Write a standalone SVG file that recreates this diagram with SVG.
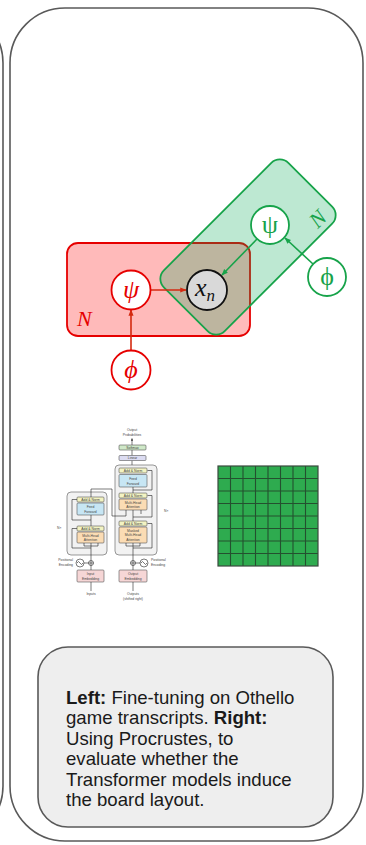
<svg xmlns="http://www.w3.org/2000/svg" width="366" height="845" viewBox="0 0 366 845">
<defs>
<style>
.panel{fill:none;stroke:#595959;stroke-width:1.6}
.red{stroke:#e60000;stroke-width:1.8}
.grn{stroke:#17a34a;stroke-width:1.8}
.math{font-family:"Liberation Serif","DejaVu Serif",serif;font-style:italic}
.up{font-family:"Liberation Serif","DejaVu Serif",serif}
.tf{font-family:"Liberation Sans",Arial,sans-serif;font-size:3.4px;fill:#444;text-anchor:middle}
.tfl{font-family:"Liberation Sans",Arial,sans-serif;font-size:3.4px;fill:#444}
.blk{stroke:#555;stroke-width:0.6}
.tl{stroke:#222;stroke-width:0.6;fill:none}
.body{font-family:"Liberation Sans",Arial,sans-serif;font-size:18.6px;fill:#1a1a1a}
.cell{fill:none;stroke:#24502f;stroke-width:1.1}
</style>
<marker id="ar" viewBox="0 0 10 10" refX="9" refY="5" markerWidth="4" markerHeight="4" orient="auto"><path d="M0,1 L10,5 L0,9 z" fill="#d42a10"/></marker>
<marker id="ag" viewBox="0 0 10 10" refX="9" refY="5" markerWidth="4" markerHeight="4" orient="auto"><path d="M0,1 L10,5 L0,9 z" fill="#17a34a"/></marker>
<marker id="ak" viewBox="0 0 10 10" refX="9" refY="5" markerWidth="4" markerHeight="4" orient="auto"><path d="M0,1 L10,5 L0,9 z" fill="#222"/></marker>
</defs>

<g id="left-panel"><path class="panel" d="M-60,8 H-52 A55,55 0 0 1 3,63 V786 A55,55 0 0 1 -52,841 H-60"/></g>
<g id="main-panel"><rect class="panel" x="10" y="8" width="353" height="833" rx="55"/></g>

<g id="plate-red">
<rect x="67" y="243" width="183" height="93" rx="11" fill="#ff0000" fill-opacity="0.27" stroke="none"/>
<rect x="67" y="243" width="183" height="93" rx="11" fill="none" class="red"/>
<text class="math" x="77" y="326" font-size="22" fill="#e60000">N</text>
</g>
<g id="plate-green">
<rect x="-88" y="-43" width="176" height="86" rx="12" transform="translate(248,247) rotate(-45)" fill="#00a550" fill-opacity="0.26" class="grn"/>
<text class="math" x="0" y="7" font-size="22" fill="#17a34a" text-anchor="middle" transform="translate(318,219) rotate(-45)">N</text>
</g>

<g id="connectors">
<line x1="151" y1="290" x2="186" y2="290" stroke="#d42a10" stroke-width="1.6" marker-end="url(#ar)"/>
<line x1="131" y1="350" x2="131" y2="310" stroke="#d42a10" stroke-width="1.6" marker-end="url(#ar)"/>
<line x1="257" y1="239" x2="222" y2="275" stroke="#17a34a" stroke-width="1.6" marker-end="url(#ag)"/>
<line x1="313" y1="264" x2="285" y2="238" stroke="#17a34a" stroke-width="1.6" marker-end="url(#ag)"/>
</g>

<g id="node-psi-red"><circle cx="131" cy="290" r="19.5" fill="#fff" class="red"/><text class="math" x="131" y="298" font-size="26" fill="#e60000" text-anchor="middle">ψ</text></g>
<g id="node-phi-red"><circle cx="131" cy="370" r="19.5" fill="#fff" class="red"/><text class="math" x="131" y="378" font-size="26" fill="#e60000" text-anchor="middle">ϕ</text></g>
<g id="node-xn"><circle cx="207" cy="290" r="20" fill="#d9d9d9" stroke="#111" stroke-width="1.8"/><text class="math" x="205" y="296" font-size="26" fill="#111" text-anchor="middle">x<tspan font-size="17" dy="5">n</tspan></text></g>
<g id="node-psi-green"><circle cx="270" cy="225" r="19" fill="#fff" class="grn"/><text class="up" x="270" y="233" font-size="26" fill="#17a34a" text-anchor="middle">ψ</text></g>
<g id="node-phi-green"><circle cx="327" cy="277" r="19" fill="#fff" class="grn"/><text class="up" x="327" y="285" font-size="26" fill="#17a34a" text-anchor="middle">ϕ</text></g>

<g id="transformer">
<text class="tf" x="132" y="431">Output</text>
<text class="tf" x="132" y="436">Probabilities</text>
<line class="tl" x1="132" y1="445" x2="132" y2="438.5" marker-end="url(#ak)"/>
<line class="tl" x1="132" y1="455.5" x2="132" y2="450"/>
<line class="tl" x1="132" y1="468" x2="132" y2="460.5"/>
<rect x="119" y="445" width="27" height="5" rx="1" fill="#cfe8c8" class="blk"/>
<text class="tf" x="132.5" y="448.8">Softmax</text>
<rect x="119" y="455.5" width="27" height="5" rx="1" fill="#dcdcf2" class="blk"/>
<text class="tf" x="132.5" y="459.3">Linear</text>
<rect x="115" y="465" width="42" height="90" rx="4" fill="#f2f2f2" stroke="#555" stroke-width="0.6"/>
<rect x="119" y="468" width="28" height="5" rx="1" fill="#f3f3c2" class="blk"/>
<text class="tf" x="133" y="471.8">Add &amp; Norm</text>
<rect x="119" y="474.5" width="28" height="12.5" rx="1" fill="#c7e6f4" class="blk"/>
<text class="tf" x="133" y="480">Feed</text><text class="tf" x="133" y="484.5">Forward</text>
<rect x="119" y="493" width="28" height="5" rx="1" fill="#f3f3c2" class="blk"/>
<text class="tf" x="133" y="496.8">Add &amp; Norm</text>
<rect x="119" y="499" width="28" height="11" rx="1" fill="#fbdcb4" class="blk"/>
<text class="tf" x="133" y="503.7">Multi-Head</text><text class="tf" x="133" y="508">Attention</text>
<rect x="119" y="521" width="28" height="5" rx="1" fill="#f3f3c2" class="blk"/>
<text class="tf" x="133" y="524.8">Add &amp; Norm</text>
<rect x="119" y="527" width="28" height="16" rx="1" fill="#fbdcb4" class="blk"/>
<text class="tf" x="133" y="532">Masked</text><text class="tf" x="133" y="536.3">Multi-Head</text><text class="tf" x="133" y="540.6">Attention</text>
<path class="tl" d="M133,493 V487 M133,521 V510 M133,560.5 V543 M133,490 H152 V470.5 H147.5 M133,517 H152 V495.5 H147.5 M133,548 H152 V523.5 H147.5"/>
<path class="tl" d="M126,543 V546 H140 V543 M141,514 V510"/>
<text class="tfl" x="164" y="512">N×</text>

<rect x="67" y="492" width="40" height="63" rx="4" fill="#f2f2f2" stroke="#555" stroke-width="0.6"/>
<rect x="77" y="497" width="27" height="5" rx="1" fill="#f3f3c2" class="blk"/>
<text class="tf" x="90.5" y="500.8">Add &amp; Norm</text>
<rect x="77" y="503" width="27" height="12" rx="1" fill="#c7e6f4" class="blk"/>
<text class="tf" x="90.5" y="508.3">Feed</text><text class="tf" x="90.5" y="512.7">Forward</text>
<rect x="77" y="526" width="27" height="5" rx="1" fill="#f3f3c2" class="blk"/>
<text class="tf" x="90.5" y="529.8">Add &amp; Norm</text>
<rect x="77" y="532" width="27" height="11" rx="1" fill="#fbdcb4" class="blk"/>
<text class="tf" x="90.5" y="536.7">Multi-Head</text><text class="tf" x="90.5" y="541">Attention</text>
<path class="tl" d="M91,526 V515 M91,560.5 V543 M91,520 H72 V499.5 H77 M91,548 H72 V528.5 H77 M84,543 V546 H98 V543"/>
<path class="tl" d="M91,497 V489 H112 V516 H126 V510"/>
<text class="tfl" x="57" y="529">N×</text>

<circle cx="91" cy="563" r="2.5" fill="#fff" stroke="#222" stroke-width="0.6"/>
<path class="tl" d="M88.5,563 H93.5 M91,560.5 V565.5"/>
<circle cx="80" cy="563" r="4" fill="#fff" stroke="#222" stroke-width="0.6"/>
<path class="tl" d="M77,563 Q78.5,560 80,563 T83,563 M84,563 H88.5"/>
<circle cx="133" cy="563" r="2.5" fill="#fff" stroke="#222" stroke-width="0.6"/>
<path class="tl" d="M130.5,563 H135.5 M133,560.5 V565.5"/>
<circle cx="144" cy="563" r="4" fill="#fff" stroke="#222" stroke-width="0.6"/>
<path class="tl" d="M141,563 Q142.5,560 144,563 T147,563 M140,563 H135.5"/>
<text class="tfl" x="73" y="561" text-anchor="end">Positional</text>
<text class="tfl" x="73" y="566" text-anchor="end">Encoding</text>
<text class="tfl" x="151" y="561">Positional</text>
<text class="tfl" x="151" y="566">Encoding</text>
<rect x="77" y="570" width="27" height="12" rx="1" fill="#f6d6d6" class="blk"/>
<text class="tf" x="90.5" y="575.3">Input</text><text class="tf" x="90.5" y="579.7">Embedding</text>
<rect x="119" y="570" width="28" height="12" rx="1" fill="#f6d6d6" class="blk"/>
<text class="tf" x="133" y="575.3">Output</text><text class="tf" x="133" y="579.7">Embedding</text>
<path class="tl" d="M91,570 V565.5 M133,570 V565.5 M91,591 V582 M133,591 V582"/>
<text class="tf" x="91" y="595">Inputs</text>
<text class="tf" x="133" y="595">Outputs</text>
<text class="tf" x="133" y="599.5">(shifted right)</text>
</g>

<g id="board">
<rect x="218" y="466" width="100" height="100" fill="#2eab4f"/>
<path class="cell" d="M230.5,466 V566 M243,466 V566 M255.5,466 V566 M268,466 V566 M280.5,466 V566 M293,466 V566 M305.5,466 V566 M218,478.5 H318 M218,491 H318 M218,503.5 H318 M218,516 H318 M218,528.5 H318 M218,541 H318 M218,553.5 H318"/>
<rect x="218" y="466" width="100" height="100" fill="none" stroke="#3a4a3e" stroke-width="1.2"/>
</g>

<g id="caption">
<rect x="38" y="647" width="295" height="180" rx="30" fill="#eeeeee" stroke="#595959" stroke-width="1.6"/>
<text class="body" x="66" y="704"><tspan font-weight="bold">Left:</tspan> Fine-tuning on Othello</text>
<text class="body" x="66" y="724.4">game transcripts. <tspan font-weight="bold">Right:</tspan></text>
<text class="body" x="66" y="744.8">Using Procrustes, to</text>
<text class="body" x="66" y="765.2">evaluate whether the</text>
<text class="body" x="66" y="785.6">Transformer models induce</text>
<text class="body" x="66" y="806">the board layout.</text>
</g>
</svg>
